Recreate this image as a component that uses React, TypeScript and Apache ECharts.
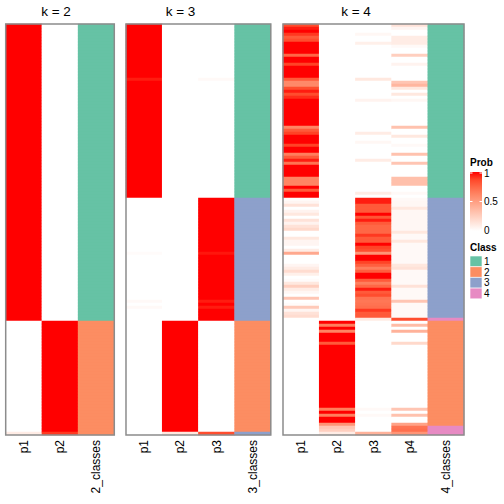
import React, { useEffect, useRef } from 'react';
import * as echarts from 'echarts';

// ---------- data (run-length encoded: [value, number of consecutive rows], top to bottom) ----------
const N_ROWS = 137;

const k2Columns = ['p1', 'p2', '2_classes'];
const k3Columns = ['p1', 'p2', 'p3', '3_classes'];
const k4Columns = ['p1', 'p2', 'p3', 'p4', '4_classes'];

const k2Class: number[][] = [[1, 99], [2, 38]];
const k3Class: number[][] = [[1, 58], [3, 41], [2, 37], [3, 1]];
const k4Class: number[][] = [[1, 58], [3, 40], [4, 1], [2, 35], [4, 3]];

const k2P1: number[][] = [[1, 99], [0, 37], [0.1, 1]];
const k2P2: number[][] = [[0, 99], [1, 37], [0.9, 1]];

const k3P1: number[][] = [[1, 18], [0.95, 1], [1, 39], [0, 18], [0.02, 1], [0, 15], [0.03, 1], [0, 1], [0.03, 1], [0, 42]];
const k3P2: number[][] = [[0, 99], [1, 37], [0.12, 1]];
const k3P3: number[][] = [[0, 18], [0.03, 1], [0, 39], [1, 18], [0.96, 1], [1, 15], [0.95, 1], [1, 1], [0.95, 1], [1, 4], [0, 37], [0.85, 1]];

const k4P1: number[][] = [
  [0.85, 1], [0.95, 1], [1, 1], [0.9, 1], [0.8, 1], [0.85, 1], [1, 4], [0.75, 1], [1, 2], [0.88, 1], [1, 4], [0.8, 1],
  [0.6, 2], [0.85, 1], [0.95, 1], [0.85, 1], [0.92, 1], [1, 9], [0.62, 1], [0.8, 1], [0.88, 1], [1, 3], [0.88, 1], [1, 2],
  [0.65, 1], [0.8, 1], [0.95, 1], [0.7, 1], [1, 4], [0.62, 3], [1, 1], [0.8, 1], [1, 2],
  [0.02, 1], [0.05, 1], [0.15, 1], [0, 1], [0.06, 1], [0.12, 1], [0, 1], [0.15, 1], [0.06, 1], [0.15, 1], [0.2, 1], [0, 2],
  [0.12, 1], [0.05, 2], [0, 1], [0.1, 1], [0.45, 1], [0, 3], [0.05, 1], [0.1, 1], [0.18, 1], [0.08, 1], [0, 1], [0.02, 1],
  [0.12, 1], [0.25, 1], [0.1, 1], [0.04, 1], [0, 1], [0.3, 1], [0, 1], [0.02, 1], [0.28, 1], [0.05, 1], [0.15, 1], [0.18, 1],
  [0, 39],
];
const k4P2: number[][] = [
  [0, 99], [1, 1], [0.65, 1], [1, 1], [0.62, 1], [1, 3], [0.8, 1], [1, 21], [0.65, 1], [1, 1], [0.65, 1], [1, 2],
  [0.55, 1], [0.3, 1], [0.25, 1], [0.1, 1],
];
const k4P3: number[][] = [
  [0, 3], [0.04, 1], [0, 2], [0.08, 1], [0, 11], [0.12, 1], [0, 6], [0.06, 1], [0, 10], [0.1, 1], [0, 2], [0.04, 1], [0, 5],
  [0.1, 1], [0, 10], [0.1, 1], [0, 1],
  [0.95, 2], [0.8, 3], [1, 1], [0.82, 1], [0.95, 1], [0.8, 1], [0.75, 3], [0.9, 1], [0.8, 2], [1, 1], [0.88, 1], [0.85, 1],
  [0.55, 1], [1, 2], [0.88, 1], [0.78, 1], [0.65, 1], [0.78, 1], [1, 2], [0.8, 1], [0.65, 1], [0.75, 1], [0.95, 1], [0.8, 1],
  [0.85, 1], [0.7, 1], [0.68, 1], [0.7, 1], [0.72, 1], [0.9, 1], [0.8, 2], [0.1, 1],
  [0, 29], [0.03, 1], [0, 1], [0.03, 1], [0, 5], [0.4, 1],
];
const k4P4: number[][] = [
  [0.15, 1], [0.05, 1], [0, 2], [0.1, 3], [0.03, 1], [0, 2], [0.25, 1], [0, 2], [0.06, 1], [0, 5], [0.3, 1], [0.38, 1],
  [0.12, 1], [0, 1], [0.12, 1], [0, 1], [0.04, 1], [0, 8], [0.32, 1], [0, 2], [0.12, 1], [0, 2], [0.03, 1], [0, 2],
  [0.32, 1], [0, 2], [0.3, 1], [0, 4], [0.33, 3], [0, 2], [0.03, 1], [0, 1],
  [0.03, 1], [0.04, 2], [0.12, 1], [0.04, 7], [0.12, 1], [0.03, 2], [0.12, 1], [0.03, 7], [0.12, 1], [0.15, 1], [0.03, 5],
  [0.15, 1], [0.03, 4], [0.3, 1], [0.03, 5], [0.85, 1],
  [0, 1], [0.35, 1], [0, 1], [0.4, 1], [0, 3], [0.2, 1], [0, 21], [0.3, 1], [0, 1], [0.32, 1], [0, 2], [0.48, 1], [0.7, 1],
  [0.72, 1], [0.55, 1],
];

const classLabels = ['1', '2', '3', '4'];
const classColors = ['#66C2A5', '#FC8D62', '#8DA0CB', '#E78AC3'];
const probColors = ['#FFFFFF', '#FFE7DE', '#FFCFBF', '#FFB7A0', '#FF9E82', '#FF8463', '#FF6746', '#FF4628', '#FF0000'];
const probTicks = ['1', '0.5', '0'];
const titles = ['k = 2', 'k = 3', 'k = 4'];

// ---------- layout ----------
const FONT = '"Liberation Sans", Arial, Helvetica, sans-serif';
const TOP = 24;
const HEIGHT = 411;
const COL_W = 36.2;
const panelLefts = [5.7, 126, 283];
const titleCenters = [56, 180.5, 356];

function expand(runs: number[][]): number[] {
  const out: number[] = [];
  for (const [v, c] of runs) for (let i = 0; i < c; i++) out.push(v);
  return out;
}

const panels = [
  { cols: k2Columns, probs: [k2P1, k2P2], cls: k2Class },
  { cols: k3Columns, probs: [k3P1, k3P2, k3P3], cls: k3Class },
  { cols: k4Columns, probs: [k4P1, k4P2, k4P3, k4P4], cls: k4Class },
];

export default function App() {
  const ref = useRef<HTMLDivElement>(null);
  useEffect(() => {
    if (!ref.current) return;
    const chart = echarts.init(ref.current, null, { renderer: 'svg' });
    const rowCats = Array.from({ length: N_ROWS }, (_, i) => 'r' + i);

    const grids: any[] = [];
    const xAxes: any[] = [];
    const yAxes: any[] = [];
    const series: any[] = [];
    const graphics: any[] = [];
    const probSeriesIdx: number[] = [];
    const classSeriesIdx: number[] = [];

    panels.forEach((p, i) => {
      const width = COL_W * p.cols.length;
      grids.push({ left: panelLefts[i], top: TOP, width, height: HEIGHT, containLabel: false });
      xAxes.push({
        type: 'category', gridIndex: i, data: p.cols, position: 'bottom',
        axisLine: { show: false }, axisTick: { show: false }, splitLine: { show: false },
        axisLabel: { rotate: 90, interval: 0, margin: 5, fontSize: 12, color: '#000', fontFamily: FONT },
      });
      yAxes.push({ type: 'category', gridIndex: i, data: rowCats, inverse: true, show: false });

      const probData: any[] = [];
      p.probs.forEach((runs, c) => {
        expand(runs).forEach((v, r) => probData.push([c, r, v]));
      });
      probSeriesIdx.push(series.length);
      series.push({ type: 'heatmap', xAxisIndex: i, yAxisIndex: i, data: probData, progressive: 0, emphasis: { disabled: true } });

      const clsData: any[] = [];
      expand(p.cls).forEach((v, r) => clsData.push([p.probs.length, r, v]));
      classSeriesIdx.push(series.length);
      series.push({ type: 'heatmap', xAxisIndex: i, yAxisIndex: i, data: clsData, progressive: 0, emphasis: { disabled: true } });

      graphics.push({
        type: 'text', x: titleCenters[i], y: 11, z: 100,
        style: { text: titles[i], textAlign: 'center', textVerticalAlign: 'middle', fontSize: 13.5, fill: '#000', fontFamily: FONT },
      });
      graphics.push({
        type: 'rect', z: 100, silent: true,
        shape: { x: panelLefts[i], y: TOP, width, height: HEIGHT },
        style: { fill: 'none', stroke: '#8c8c8c', lineWidth: 1.5 },
      });
    });

    // legends
    const LX = 470;
    graphics.push({
      type: 'text', x: LX, y: 162, z: 100,
      style: { text: 'Prob', fontWeight: 'bold', fontSize: 10, textVerticalAlign: 'middle', fill: '#000', fontFamily: FONT },
    });
    const gTop = 172, gH = 59, gW = 12;
    graphics.push({
      type: 'rect', z: 100,
      shape: { x: LX, y: gTop, width: gW, height: gH },
      style: {
        fill: {
          type: 'linear', x: 0, y: 0, x2: 0, y2: 1,
          colorStops: probColors.slice().reverse().map((c, i, arr) => ({ offset: i / (arr.length - 1), color: c })),
        },
      },
    });
    probTicks.forEach((t, i) => {
      const y = gTop + 1 + (i * (gH - 2)) / (probTicks.length - 1);
      graphics.push({ type: 'line', z: 101, shape: { x1: LX, y1: y, x2: LX + 2.5, y2: y }, style: { stroke: '#fff', lineWidth: 1 } });
      graphics.push({ type: 'line', z: 101, shape: { x1: LX + gW - 2.5, y1: y, x2: LX + gW, y2: y }, style: { stroke: '#fff', lineWidth: 1 } });
      graphics.push({
        type: 'text', x: LX + gW + 2, y, z: 100,
        style: { text: t, fontSize: 10, textVerticalAlign: 'middle', fill: '#000', fontFamily: FONT },
      });
    });
    graphics.push({
      type: 'text', x: LX, y: 247.5, z: 100,
      style: { text: 'Class', fontWeight: 'bold', fontSize: 10, textVerticalAlign: 'middle', fill: '#000', fontFamily: FONT },
    });
    classLabels.forEach((lab, i) => {
      const y = 256 + i * 10.7;
      graphics.push({
        type: 'rect', z: 100,
        shape: { x: LX, y, width: gW, height: 10.7 },
        style: { fill: classColors[i], stroke: '#fff', lineWidth: 0.6 },
      });
      graphics.push({
        type: 'text', x: LX + gW + 2, y: y + 5.35, z: 100,
        style: { text: lab, fontSize: 10, textVerticalAlign: 'middle', fill: '#000', fontFamily: FONT },
      });
    });

    chart.setOption({
      animation: false,
      backgroundColor: '#fff',
      textStyle: { fontFamily: FONT },
      grid: grids,
      xAxis: xAxes,
      yAxis: yAxes,
      visualMap: [
        { type: 'continuous', min: 0, max: 1, dimension: 2, seriesIndex: probSeriesIdx, show: false, inRange: { color: probColors } },
        {
          type: 'piecewise', dimension: 2, seriesIndex: classSeriesIdx, show: false,
          pieces: classLabels.map((l, i) => ({ value: Number(l), color: classColors[i] })),
        },
      ],
      series,
      graphic: graphics,
    });
    return () => chart.dispose();
  }, []);
  return <div ref={ref} style={{ position: 'absolute', left: 0, top: 0, width: 504, height: 504 }} />;
}
